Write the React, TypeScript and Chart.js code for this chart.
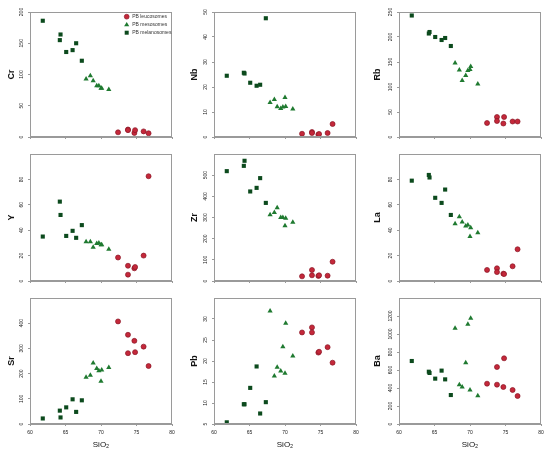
import React, { useEffect, useRef } from 'react';
import { Chart, registerables } from 'chart.js';

Chart.register(...registerables);

// ---------- DATA ----------
const leucoSiO2 = [72.4, 73.8, 73.8, 74.7, 74.8, 76.0, 76.7];
const mesoSiO2 = [67.9, 68.5, 68.9, 69.4, 69.7, 70.0, 70.1, 71.1];
const melanoSiO2 = [61.8, 64.2, 64.3, 65.1, 66.0, 66.5, 67.3];

const crLeuco = [7.5, 12, 11, 6.5, 11, 9, 6];
const crMeso = [93, 98, 90, 82, 82, 78, 78, 76];
const crMelano = [186, 155, 164, 136, 139, 150, 122];

const nbLeuco = [1.3, 2.0, 1.6, 1.0, 1.2, 1.6, 5.2];
const nbMeso = [13.8, 15.0, 12.1, 11.4, 12.0, 15.8, 12.2, 11.2];
const nbMelano = [24.5, 25.7, 25.4, 21.7, 20.5, 20.9, 47.5];

const rbLeuco = [28, 40, 32, 27, 40, 31, 31];
const rbMeso = [148, 134, 113, 123, 133, 135, 141, 106];
const rbMelano = [243, 207, 210, 200, 194, 198, 182];

const yLeuco = [18.5, 12, 5, 10, 11, 20, 82.5];
const yMeso = [31, 31, 26.5, 29.5, 30, 28.5, 28.5, 25];
const yMelano = [35, 62.5, 52, 35.5, 39.5, 34, 44];

const zrLeuco = [22, 52, 27, 24, 27, 25, 91];
const zrMeso = [313, 324, 346, 300, 300, 261, 297, 277];
const zrMelano = [519, 544, 568, 423, 440, 486, 369];

const laLeuco = [8.7, 10, 7, 5.8, 5.5, 11.6, 25];
const laMeso = [45, 50.5, 46.5, 43.3, 44, 35, 42, 38];
const laMelano = [79, 83.5, 81.5, 65.5, 61.5, 72, 52];

const srLeuco = [407, 354, 281, 330, 285, 307, 230];
const srMeso = [186, 193, 242, 220, 211, 170, 214, 224];
const srMelano = [22, 53, 26, 66, 98, 48, 94];

const pbLeuco = [26.8, 28.0, 26.8, 22.0, 22.2, 23.3, 19.6];
const pbMeso = [31.9, 16.4, 18.5, 17.6, 23.4, 17.1, 29.0, 21.2];
const pbMelano = [5.4, 9.7, 9.7, 13.6, 18.7, 7.5, 10.2];

const baLeuco = [448, 633, 437, 411, 730, 378, 311];
const baMeso = [1063, 437, 411, 681, 1107, 378, 1174, 315];
const baMelano = [700, 581, 567, 504, 593, 496, 322];

const elements = ['Cr', 'Nb', 'Rb', 'Y', 'Zr', 'La', 'Sr', 'Pb', 'Ba'];
const leucoValues = [crLeuco, nbLeuco, rbLeuco, yLeuco, zrLeuco, laLeuco, srLeuco, pbLeuco, baLeuco];
const mesoValues = [crMeso, nbMeso, rbMeso, yMeso, zrMeso, laMeso, srMeso, pbMeso, baMeso];
const melanoValues = [crMelano, nbMelano, rbMelano, yMelano, zrMelano, laMelano, srMelano, pbMelano, baMelano];

const seriesLabels = ['PB leucosomes', 'PB mesosomes', 'PB melanosomes'];

const xTicks = [60, 65, 70, 75, 80];
const yMins = [0, 0, 0, 0, 0, 0, 0, 5, 0];
const yMaxs = [200, 50, 250, 100, 600, 100, 500, 35, 1400];
const crTicks = [0, 50, 100, 150, 200];
const nbTicks = [0, 10, 20, 30, 40, 50];
const rbTicks = [0, 50, 100, 150, 200, 250];
const yTicks = [0, 20, 40, 60, 80];
const zrTicks = [0, 100, 200, 300, 400, 500];
const laTicks = [0, 20, 40, 60, 80];
const srTicks = [0, 100, 200, 300, 400];
const pbTicks = [5, 10, 15, 20, 25, 30];
const baTicks = [0, 200, 400, 600, 800, 1000, 1200];
const yTickLists = [crTicks, nbTicks, rbTicks, yTicks, zrTicks, laTicks, srTicks, pbTicks, baTicks];

// ---------- LAYOUT / STYLE ----------
const FONT = 'Arial, "Liberation Sans", Helvetica, sans-serif';
const colCells = [[0, 183], [183, 366], [366, 550]];
const rowCells = [[0, 145], [145, 290], [290, 454]];
const colPlots = [[30, 172], [214, 356], [399, 541]];
const rowPlots = [[12, 137], [154, 281], [298, 424]];
const colTitleOffset = [11.3, 12, 12];

const LEUCO_FILL = '#c4283a';
const LEUCO_EDGE = '#8a1525';
const MESO_FILL = '#1f7a30';
const MELANO_FILL = '#0c4a1d';
const FRAME = '#9a9a9a';

function drawMarker(ctx: CanvasRenderingContext2D, kind: number, x: number, y: number) {
  ctx.save();
  if (kind === 0) {
    ctx.beginPath();
    ctx.arc(x, y, 2.4, 0, Math.PI * 2);
    ctx.fillStyle = LEUCO_FILL;
    ctx.fill();
    ctx.lineWidth = 0.7;
    ctx.strokeStyle = LEUCO_EDGE;
    ctx.stroke();
  } else if (kind === 1) {
    ctx.beginPath();
    ctx.moveTo(x, y - 2.8);
    ctx.lineTo(x + 2.6, y + 1.6);
    ctx.lineTo(x - 2.6, y + 1.6);
    ctx.closePath();
    ctx.fillStyle = MESO_FILL;
    ctx.fill();
  } else {
    ctx.fillStyle = MELANO_FILL;
    ctx.fillRect(x - 2, y - 2, 4, 4);
  }
  ctx.restore();
}

function Panel({ idx }: { idx: number }) {
  const ref = useRef<HTMLCanvasElement | null>(null);
  const col = idx % 3;
  const row = Math.floor(idx / 3);
  const [cl, cr] = colCells[col];
  const [ct, cb] = rowCells[row];
  const [pl, pr] = colPlots[col];
  const [pt, pb] = rowPlots[row];
  const w = cr - cl;
  const h = cb - ct;

  useEffect(() => {
    const canvas = ref.current;
    if (!canvas) return;
    const yLabelList = yTickLists[idx];

    const framePlugin = {
      id: 'framePlugin' + idx,
      afterDraw(chart: any) {
        const ctx = chart.ctx as CanvasRenderingContext2D;
        const a = chart.chartArea;
        ctx.save();
        ctx.strokeStyle = FRAME;
        ctx.lineWidth = 1;
        ctx.strokeRect(Math.round(a.left) + 0.5, Math.round(a.top) + 0.5, Math.round(a.right - a.left) - 1, Math.round(a.bottom - a.top) - 1);
        // rotated y tick labels
        const ys = chart.scales.y;
        ctx.fillStyle = '#222';
        ctx.font = '5px ' + FONT;
        ctx.textAlign = 'center';
        ctx.textBaseline = 'middle';
        for (const v of yLabelList) {
          const py = ys.getPixelForValue(v);
          ctx.save();
          ctx.translate(a.left - 8, py);
          ctx.rotate(-Math.PI / 2);
          ctx.fillText(String(v), 0, 0);
          ctx.restore();
        }
        // legend on first panel
        if (idx === 0) {
          const lx = 126.7 - cl;
          const rows = [16.7, 24.7, 32.7];
          ctx.font = '5px ' + FONT;
          ctx.textAlign = 'left';
          ctx.fillStyle = '#333';
          chart.data.datasets.forEach((ds: any, i: number) => {
            const ly = rows[i] - ct;
            drawMarker(ctx, i, lx, ly);
            ctx.fillStyle = '#333';
            ctx.fillText(ds.label, lx + 5.5, ly);
          });
        }
        ctx.restore();
      },
    };

    const mk = (xs: number[], ys: number[]) => xs.map((x, i) => ({ x, y: ys[i] }));

    const chart = new Chart(canvas, {
      type: 'scatter',
      data: {
        datasets: [
          {
            label: seriesLabels[0],
            data: mk(leucoSiO2, leucoValues[idx]),
            pointStyle: 'circle',
            pointRadius: 2.5,
            backgroundColor: LEUCO_FILL,
            borderColor: LEUCO_EDGE,
            borderWidth: 0.7,
          },
          {
            label: seriesLabels[1],
            data: mk(mesoSiO2, mesoValues[idx]),
            pointStyle: 'triangle',
            pointRadius: 3,
            backgroundColor: MESO_FILL,
            borderColor: MESO_FILL,
            borderWidth: 0,
          },
          {
            label: seriesLabels[2],
            data: mk(melanoSiO2, melanoValues[idx]),
            pointStyle: 'rect',
            pointRadius: 2.9,
            backgroundColor: MELANO_FILL,
            borderColor: MELANO_FILL,
            borderWidth: 0,
          },
        ],
      },
      options: {
        responsive: false,
        animation: false,
        devicePixelRatio: 1,
        layout: { padding: { left: 0, bottom: 0, top: pt - ct, right: cr - pr } },
        plugins: { legend: { display: false }, tooltip: { enabled: false } },
        scales: {
          x: {
            type: 'linear',
            min: 60,
            max: 80,
            afterBuildTicks: (s: any) => {
              s.ticks = xTicks.map((v) => ({ value: v }));
            },
            afterFit: (s: any) => {
              s.height = cb - pb;
            },
            grid: { drawOnChartArea: false, drawTicks: true, tickLength: 2, color: FRAME },
            border: { color: FRAME },
            ticks: {
              display: row === 2,
              autoSkip: false,
              maxRotation: 0,
              padding: 4,
              color: '#222',
              font: { size: 5, family: FONT },
            },
            title: {
              display: row === 2,
              text: 'SiO₂',
              color: '#111',
              font: { size: 8, family: FONT },
              padding: { top: 0, bottom: 4.5 },
            },
          },
          y: {
            type: 'linear',
            min: yMins[idx],
            max: yMaxs[idx],
            afterBuildTicks: (s: any) => {
              s.ticks = yLabelList.map((v) => ({ value: v }));
            },
            afterFit: (s: any) => {
              s.width = pl - cl;
            },
            grid: { drawOnChartArea: false, drawTicks: true, tickLength: 2, color: FRAME },
            border: { color: FRAME },
            ticks: { display: false, autoSkip: false },
            title: {
              display: true,
              text: elements[idx],
              color: '#111',
              font: { size: 9, weight: 'bold', family: FONT },
              padding: { top: colTitleOffset[col] - 5.4, bottom: 0 },
            },
          },
        },
      } as any,
      plugins: [framePlugin],
    });
    return () => chart.destroy();
  }, [idx]);

  return (
    <canvas
      ref={ref}
      width={w}
      height={h}
      style={{ position: 'absolute', left: cl, top: ct, width: w, height: h, display: 'block' }}
    />
  );
}

export default function App() {
  return (
    <div style={{ position: 'absolute', left: 0, top: 0, width: 550, height: 454, background: '#fff', overflow: 'hidden' }}>
      {elements.map((_, i) => (
        <Panel key={i} idx={i} />
      ))}
    </div>
  );
}
